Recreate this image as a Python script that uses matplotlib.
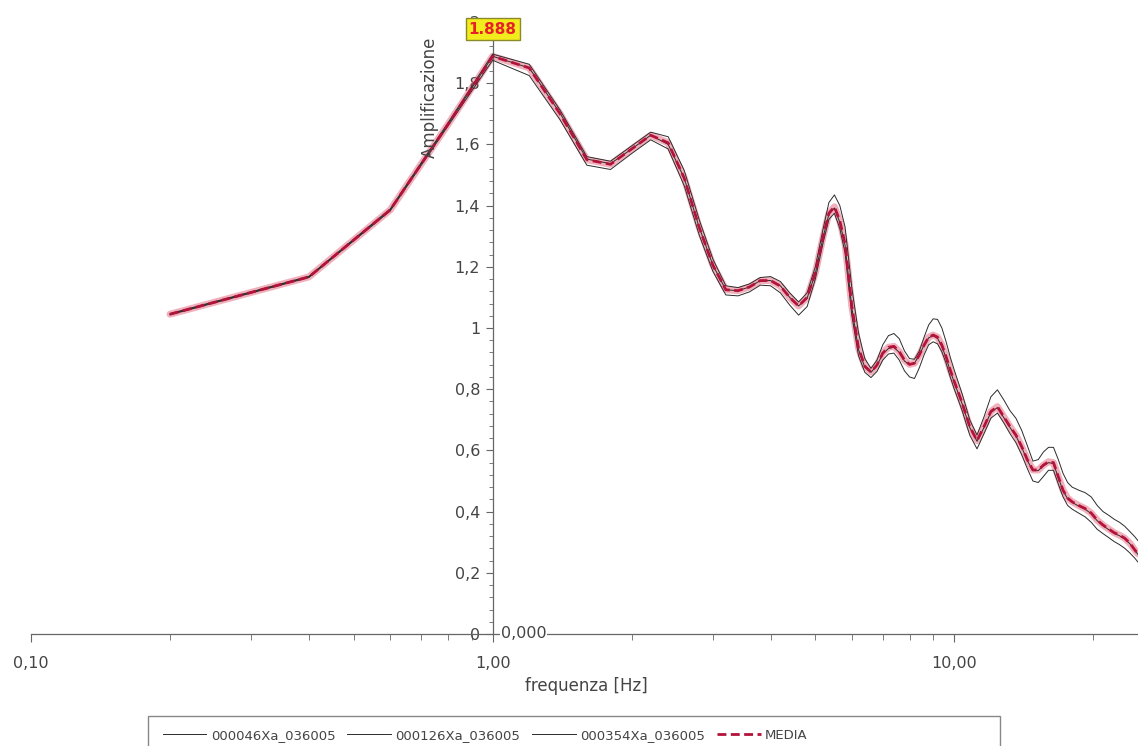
import numpy as np
import matplotlib
matplotlib.use("Agg")
import matplotlib.pyplot as plt
from matplotlib.patches import Rectangle
from matplotlib.ticker import FixedLocator, NullFormatter, MultipleLocator, FuncFormatter, LogLocator

# ---------------- data ----------------
freq = [0.2, 0.4, 0.6, 0.8, 1.0, 1.2, 1.4, 1.6, 1.8, 2.0, 2.2, 2.4, 2.6, 2.8, 3.0,
        3.2, 3.4, 3.6, 3.8, 4.0, 4.2, 4.4, 4.6, 4.8, 5.0, 5.2, 5.35, 5.5, 5.65, 5.8,
        6.0, 6.2, 6.4, 6.6, 6.8, 7.0, 7.2, 7.4, 7.6, 7.8, 8.0, 8.2, 8.4, 8.6, 8.8,
        9.0, 9.2, 9.4, 9.6, 9.8, 10.0, 10.4, 10.8, 11.2, 11.6, 12.0, 12.4, 12.8, 13.2,
        13.6, 14.0, 14.4, 14.8, 15.2, 15.6, 16.0, 16.4, 16.8, 17.2, 17.6, 18.0, 18.6,
        19.2, 19.8, 20.4, 21.0, 21.6, 22.2, 22.8, 23.4, 24.0, 24.6, 25.0]

media = [1.045, 1.167, 1.386, 1.665, 1.888, 1.850, 1.700, 1.550, 1.535, 1.585, 1.630,
         1.605, 1.490, 1.330, 1.205, 1.125, 1.122, 1.134, 1.155, 1.155, 1.137, 1.100,
         1.072, 1.100, 1.180, 1.300, 1.375, 1.396, 1.350, 1.275, 1.070, 0.935, 0.875,
         0.856, 0.879, 0.918, 0.937, 0.940, 0.923, 0.895, 0.881, 0.885, 0.912, 0.944,
         0.970, 0.977, 0.970, 0.944, 0.906, 0.863, 0.825, 0.755, 0.678, 0.632, 0.678,
         0.727, 0.743, 0.710, 0.678, 0.650, 0.612, 0.569, 0.536, 0.536, 0.552, 0.563,
         0.560, 0.514, 0.470, 0.444, 0.432, 0.420, 0.410, 0.395, 0.372, 0.356, 0.343,
         0.331, 0.323, 0.313, 0.297, 0.275, 0.262]

s_000046 = [1.043, 1.165, 1.383, 1.660, 1.875, 1.825, 1.680, 1.532, 1.518, 1.570, 1.615,
            1.585, 1.465, 1.305, 1.185, 1.108, 1.105, 1.118, 1.140, 1.138, 1.115, 1.075,
            1.042, 1.070, 1.160, 1.280, 1.355, 1.375, 1.325, 1.245, 1.040, 0.910, 0.855,
            0.838, 0.858, 0.895, 0.915, 0.918, 0.895, 0.860, 0.840, 0.835, 0.870, 0.912,
            0.945, 0.955, 0.948, 0.922, 0.885, 0.840, 0.800, 0.730, 0.650, 0.605, 0.655,
            0.705, 0.722, 0.690, 0.655, 0.625, 0.585, 0.540, 0.500, 0.495, 0.515, 0.535,
            0.535, 0.490, 0.448, 0.420, 0.408, 0.395, 0.383, 0.365, 0.342, 0.328, 0.315,
            0.302, 0.292, 0.280, 0.265, 0.248, 0.235]

s_000126 = [1.045, 1.167, 1.386, 1.665, 1.888, 1.850, 1.702, 1.552, 1.537, 1.585, 1.630,
            1.600, 1.490, 1.330, 1.205, 1.125, 1.122, 1.134, 1.155, 1.155, 1.138, 1.100,
            1.072, 1.098, 1.178, 1.298, 1.372, 1.392, 1.345, 1.270, 1.065, 0.930, 0.872,
            0.855, 0.878, 0.915, 0.933, 0.937, 0.920, 0.892, 0.880, 0.885, 0.912, 0.944,
            0.968, 0.975, 0.966, 0.940, 0.902, 0.860, 0.822, 0.752, 0.675, 0.630, 0.675,
            0.724, 0.740, 0.707, 0.675, 0.647, 0.610, 0.566, 0.534, 0.534, 0.550, 0.560,
            0.557, 0.511, 0.468, 0.442, 0.430, 0.418, 0.408, 0.393, 0.370, 0.354, 0.341,
            0.329, 0.321, 0.311, 0.295, 0.273, 0.260]

s_000354 = [1.047, 1.169, 1.389, 1.670, 1.895, 1.862, 1.712, 1.560, 1.545, 1.595, 1.640,
            1.625, 1.515, 1.355, 1.225, 1.138, 1.132, 1.144, 1.165, 1.168, 1.152, 1.115,
            1.085, 1.115, 1.200, 1.325, 1.410, 1.435, 1.400, 1.330, 1.130, 0.985, 0.900,
            0.868, 0.895, 0.945, 0.975, 0.982, 0.965, 0.925, 0.900, 0.898, 0.925, 0.970,
            1.010, 1.030, 1.028, 1.000, 0.955, 0.905, 0.862, 0.785, 0.700, 0.650, 0.710,
            0.775, 0.798, 0.765, 0.730, 0.705, 0.665, 0.615, 0.565, 0.570, 0.595, 0.610,
            0.610, 0.570, 0.525, 0.495, 0.480, 0.470, 0.462, 0.448, 0.420, 0.400, 0.388,
            0.375, 0.365, 0.352, 0.335, 0.318, 0.305]

series_names = ["000046Xa_036005", "000126Xa_036005", "000354Xa_036005"]
media_name = "MEDIA"
y_ticks = [0, 0.2, 0.4, 0.6, 0.8, 1.0, 1.2, 1.4, 1.6, 1.8, 2.0]
x_ticks = [0.1, 1.0, 10.0]
x_label = "frequenza [Hz]"
y_label = "Amplificazione"

# ---------------- figure ----------------
W, H = 1138, 746
fig = plt.figure(figsize=(W / 100, H / 100), dpi=100)
plt.rcParams['font.family'] = ['DejaVu Sans']
ax = fig.add_axes([31 / W, (H - 634) / H, 1 - 31 / W, (634 - 22) / H])

ax.set_xscale('log')
ax.set_xlim(0.1, 25.0)
ax.set_ylim(0, 2.0)

txt_col = '#444444'
axis_col = '#666666'

handles = []
for name, s in zip(series_names, [s_000046, s_000126, s_000354]):
    h, = ax.plot(freq, s, color='#2b2b2b', lw=0.7, zorder=3, label=name)
    handles.append(h)

# red band under the mean
ax.plot(freq, media, color='#e0506a', lw=5.0, alpha=0.45, zorder=2,
        solid_capstyle='round')
hm, = ax.plot(freq, media, color='#b3123a', lw=2.0, ls=(0, (3.2, 1.6)), zorder=4,
              label=media_name)
handles.append(hm)

# spines
for side in ['top', 'right']:
    ax.spines[side].set_visible(False)
ax.spines['left'].set_position(('data', 1.0))
ax.spines['left'].set_color(axis_col)
ax.spines['bottom'].set_color(axis_col)
ax.spines['left'].set_linewidth(0.9)
ax.spines['bottom'].set_linewidth(0.9)

# y ticks
def yfmt(v, pos):
    s = ('%.1f' % v).rstrip('0').rstrip('.')
    return s.replace('.', ',')
ax.yaxis.set_major_locator(FixedLocator(y_ticks))
ax.yaxis.set_major_formatter(FuncFormatter(yfmt))
ax.yaxis.set_minor_locator(MultipleLocator(0.04))
ax.tick_params(axis='y', which='major', direction='out', length=5, width=0.8,
               color=axis_col, labelcolor=txt_col, labelsize=11.5, pad=4)
ax.tick_params(axis='y', which='minor', direction='out', length=3, width=0.6,
               color=axis_col)

# x ticks
ax.xaxis.set_major_locator(FixedLocator(x_ticks))
ax.xaxis.set_major_formatter(FuncFormatter(lambda v, p: ('%.2f' % v).replace('.', ',')))
ax.xaxis.set_minor_locator(LogLocator(base=10, subs=np.arange(2, 10)))
ax.xaxis.set_minor_formatter(NullFormatter())
ax.tick_params(axis='x', which='major', direction='out', length=6, width=0.8,
               color=axis_col, labelcolor=txt_col, labelsize=11.5, pad=10)
ax.tick_params(axis='x', which='minor', direction='out', length=4, width=0.6,
               color=axis_col)

# axis labels
fig.text(430 / W, 1 - 97 / H, y_label, rotation=90, ha='center', va='center',
         fontsize=12, color=txt_col)
fig.text(586 / W, 1 - 686 / H, x_label, ha='center', va='center',
         fontsize=12, color=txt_col)

# cursor readouts
peak = max(media)
peak_f = freq[media.index(peak)]
ax.text(peak_f, 1.977, '%.3f' % peak, ha='center', va='center', fontsize=11,
        color='#e8202a', fontweight='bold', zorder=10,
        bbox=dict(boxstyle='square,pad=0.2', facecolor='#f2ec1c',
                  edgecolor='#8a8a2a', linewidth=1.0))
ax.annotate('0,000', xy=(peak_f, 0), xytext=(6, 0), textcoords='offset points',
            ha='left', va='center', fontsize=11.5, color=txt_col,
            annotation_clip=False, zorder=6,
            bbox=dict(boxstyle='square,pad=0.05', facecolor='white', edgecolor='none'))

# legend (frameless) + its own box, wider than the entries as in the reference
leg = fig.legend(handles=handles, labels=series_names + [media_name],
                 loc='upper left', bbox_to_anchor=(152 / W, 1 - 718 / H),
                 ncol=4, frameon=False, fontsize=9.5,
                 handlelength=3.3, handletextpad=0.35, columnspacing=0.9,
                 borderpad=0.3, labelcolor=txt_col)
fig.patches.append(Rectangle((148 / W, -0.02), (1000 - 148) / W, (0.02 + 1 - 716 / H),
                             transform=fig.transFigure, facecolor='none',
                             edgecolor='#888888', linewidth=1.0))

fig.savefig('out.png', dpi=100)
